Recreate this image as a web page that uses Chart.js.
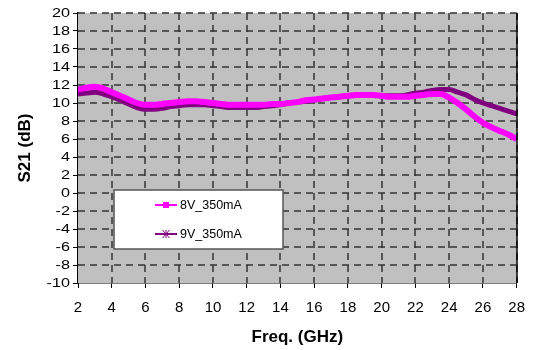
<!DOCTYPE html>
<html>
<head>
<meta charset="utf-8">
<script src="https://cdn.jsdelivr.net/npm/chart.js@4.4.0/dist/chart.umd.min.js"></script>
<style>
  html, body { margin: 0; padding: 0; background: #fff; }
  #wrap { width: 536px; height: 350px; }
</style>
</head>
<body>
<div id="wrap"><canvas id="s21Chart" width="536" height="350"></canvas></div>
<script>
// ---------------- Data ----------------
const freqGHz = [
  2.0, 2.5, 3.0, 3.5, 4.0, 4.5, 5.0, 5.5, 6.0, 6.5,
  7.0, 7.5, 8.0, 8.5, 9.0, 9.5, 10.0, 10.5, 11.0, 11.5,
  12.0, 12.5, 13.0, 13.5, 14.0, 14.5, 15.0, 15.5, 16.0, 16.5,
  17.0, 17.5, 18.0, 18.5, 19.0, 19.5, 20.0, 20.5, 21.0, 21.5,
  22.0, 22.5, 23.0, 23.5, 24.0, 24.5, 25.0, 25.5, 26.0, 26.5,
  27.0, 27.5, 28.0
];
const s21_8V = [
  11.5, 11.7, 11.8, 11.6, 11.2, 10.8, 10.4, 10.0, 9.8, 9.8,
  9.9, 10.0, 10.1, 10.2, 10.2, 10.1, 10.0, 9.9, 9.8, 9.8,
  9.8, 9.8, 9.8, 9.9, 9.9, 10.0, 10.1, 10.3, 10.4, 10.5,
  10.6, 10.7, 10.8, 10.9, 10.9, 10.9, 10.8, 10.7, 10.7, 10.7,
  10.8, 10.9, 11.0, 11.0, 10.6, 10.0, 9.3, 8.5, 7.8, 7.3,
  6.9, 6.5, 6.0
];
const s21_9V = [
  11.0, 11.1, 11.2, 11.0, 10.7, 10.3, 9.9, 9.5, 9.3, 9.3,
  9.4, 9.6, 9.7, 9.8, 9.8, 9.8, 9.7, 9.6, 9.5, 9.5,
  9.5, 9.5, 9.6, 9.7, 9.8, 10.0, 10.1, 10.2, 10.3, 10.5,
  10.6, 10.7, 10.8, 10.9, 10.9, 10.9, 10.8, 10.8, 10.8, 10.9,
  11.1, 11.2, 11.4, 11.5, 11.5, 11.2, 10.9, 10.4, 10.0, 9.7,
  9.4, 9.1, 8.8
];
const seriesNames = ["8V_350mA", "9V_350mA"];
const seriesColors = ["#ff00ff", "#800080"];
const xTicks = { min: 2, max: 28, step: 2 };
const yTicks = { min: -10, max: 20, step: 2 };

const FONT = "'Liberation Sans', Arial, sans-serif";

const toPoints = ys => freqGHz.map((f, i) => ({ x: f, y: ys[i] }));

// dashed segment drawn piece by piece (7 on / 5 off)
function dashedLine(ctx, x1, y1, x2, y2) {
  const len = Math.hypot(x2 - x1, y2 - y1);
  const ux = (x2 - x1) / len, uy = (y2 - y1) / len;
  ctx.beginPath();
  for (let d = 0; d < len; d += 12) {
    const e = Math.min(d + 7, len);
    ctx.moveTo(x1 + ux * d, y1 + uy * d);
    ctx.lineTo(x1 + ux * e, y1 + uy * e);
  }
  ctx.stroke();
}

// ---------------- Plugins ----------------
// grey plot background + dashed grid
const plotBg = {
  id: "plotBg",
  beforeDatasetsDraw(chart) {
    const { ctx, chartArea: a, scales } = chart;
    ctx.save();
    ctx.fillStyle = "#c0c0c0";
    ctx.fillRect(a.left, a.top, a.right - a.left, a.bottom - a.top);

    ctx.strokeStyle = "#333";
    ctx.lineWidth = 1.5;
    scales.x.ticks.forEach(t => {
      if (t.value === xTicks.min) return;
      const px = Math.round(scales.x.getPixelForValue(t.value));
      dashedLine(ctx, px, a.top, px, a.bottom);
    });
    scales.y.ticks.forEach(t => {
      if (t.value === yTicks.min) return;
      const py = Math.round(scales.y.getPixelForValue(t.value));
      dashedLine(ctx, a.left, py, a.right, py);
    });
    ctx.restore();
  }
};

// right-hand frame line + wide y tick labels
const plotFrame = {
  id: "plotFrame",
  afterDatasetsDraw(chart) {
    const { ctx, chartArea: a, scales: { y } } = chart;
    ctx.save();
    ctx.strokeStyle = "#000";
    ctx.lineWidth = 1.5;
    ctx.beginPath();
    ctx.moveTo(Math.round(a.right), a.top);
    ctx.lineTo(Math.round(a.right), a.bottom);
    ctx.stroke();

    ctx.font = "12px " + FONT;
    ctx.fillStyle = "#000";
    ctx.textAlign = "right";
    ctx.textBaseline = "middle";
    y.ticks.forEach(t => {
      ctx.save();
      ctx.translate(a.left - 8, y.getPixelForValue(t.value) + 0.5);
      ctx.scale(1.35, 1);
      ctx.fillText(String(t.value), 0, 0);
      ctx.restore();
    });
    ctx.restore();
  }
};

// boxed legend sitting inside the plot
const boxLegend = {
  id: "boxLegend",
  afterDraw(chart) {
    const { ctx, chartArea: a } = chart;
    const bx = a.left + 36, by = a.top + 177, bw = 169, bh = 59;
    ctx.save();
    ctx.fillStyle = "#fff";
    ctx.fillRect(bx, by, bw, bh);
    ctx.strokeStyle = "#555";
    ctx.lineWidth = 1.5;
    ctx.strokeRect(bx, by, bw, bh);

    ctx.font = "12.5px " + FONT;
    ctx.textBaseline = "middle";
    seriesNames.forEach((name, i) => {
      const ly = by + 15 + i * 29;
      const lx = bx + 41;
      ctx.strokeStyle = seriesColors[i];
      ctx.lineWidth = 2;
      ctx.beginPath();
      ctx.moveTo(lx, ly);
      ctx.lineTo(lx + 22, ly);
      ctx.stroke();
      ctx.fillStyle = seriesColors[i];
      if (i === 0) {
        ctx.fillRect(lx + 8, ly - 3, 6, 6);
      } else {
        ctx.lineWidth = 1;
        ctx.beginPath();
        ctx.moveTo(lx + 7.5, ly - 4); ctx.lineTo(lx + 14.5, ly + 4);
        ctx.moveTo(lx + 14.5, ly - 4); ctx.lineTo(lx + 7.5, ly + 4);
        ctx.moveTo(lx + 11, ly - 4); ctx.lineTo(lx + 11, ly + 4);
        ctx.stroke();
      }
      ctx.fillStyle = "#000";
      ctx.fillText(name, lx + 25, ly + 1);
    });
    ctx.restore();
  }
};

// ---------------- Chart ----------------
new Chart(document.getElementById("s21Chart"), {
  type: "line",
  data: {
    datasets: [
      {
        label: seriesNames[0],
        data: toPoints(s21_8V),
        borderColor: seriesColors[0],
        borderWidth: 6,
        pointRadius: 0,
        cubicInterpolationMode: "monotone"
      },
      {
        label: seriesNames[1],
        data: toPoints(s21_9V),
        borderColor: seriesColors[1],
        borderWidth: 5,
        pointRadius: 0,
        cubicInterpolationMode: "monotone"
      }
    ]
  },
  options: {
    responsive: false,
    animation: false,
    devicePixelRatio: 1,
    layout: { padding: { top: 13, right: 16, left: 11, bottom: 0 } },
    plugins: { legend: { display: false }, tooltip: { enabled: false } },
    scales: {
      x: {
        type: "linear",
        min: xTicks.min,
        max: xTicks.max,
        ticks: {
          stepSize: xTicks.step,
          autoSkip: false,
          color: "#000",
          padding: 11,
          maxRotation: 0,
          font: { family: FONT, size: 15 }
        },
        grid: { drawOnChartArea: false, drawTicks: true, tickColor: "#000", tickLength: 5 },
        border: { display: true, color: "#000", width: 1.5 },
        title: {
          display: true,
          text: "Freq. (GHz)",
          color: "#000",
          padding: { top: 4, bottom: 2 },
          font: { family: FONT, size: 17, weight: "bold" }
        },
        afterFit(scale) { scale.height = 67; }
      },
      y: {
        min: yTicks.min,
        max: yTicks.max,
        ticks: {
          stepSize: yTicks.step,
          autoSkip: false,
          display: false
        },
        grid: { drawOnChartArea: false, drawTicks: true, tickColor: "#000", tickLength: 5 },
        border: { display: true, color: "#000", width: 1.5 },
        title: {
          display: true,
          text: "S21 (dB)",
          color: "#000",
          padding: { top: 4, bottom: 0 },
          font: { family: FONT, size: 17, weight: "bold" }
        },
        afterFit(scale) { scale.width = 67; }
      }
    }
  },
  plugins: [plotBg, plotFrame, boxLegend]
});
</script>
</body>
</html>
